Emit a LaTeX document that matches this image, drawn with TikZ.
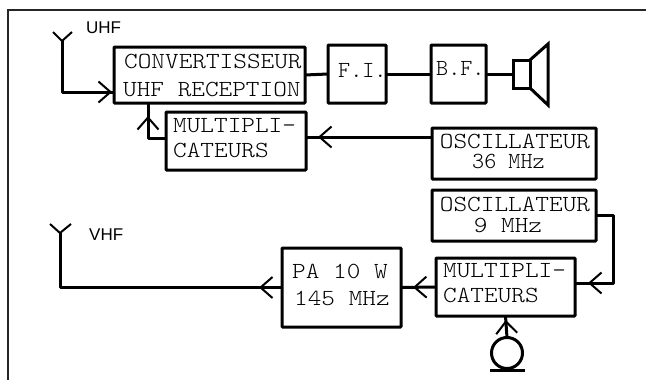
\documentclass[tikz,border=0pt]{standalone}
\usepackage{fontspec}
\setmainfont{Liberation Sans}
\newfontfamily\monof[FakeStretch=1.13]{Latin Modern Mono Light}
\newfontfamily\monon{Latin Modern Mono Light}
\usetikzlibrary{arrows.meta,decorations.markings}
\tikzset{
  x=1pt,y=-1pt,
  box/.style={draw=black,line width=3pt,outer sep=0pt,inner sep=0pt,rounded corners=0.8pt,fill=white},
  wire/.style={draw=black,line width=3pt,line join=round},
  ant/.style={draw=black,line width=2pt},
  txt/.style={anchor=base west,inner sep=0pt,font=\monof\fontsize{23}{23}\selectfont},
  txc/.style={anchor=base,inner sep=0pt,font=\monof\fontsize{23}{23}\selectfont},
  txn/.style={anchor=base west,inner sep=0pt,font=\monon\fontsize{23}{23}\selectfont},
  sans/.style={anchor=base west,inner sep=0pt,font=\fontsize{17}{17}\selectfont},
  chev/.style={postaction={decorate},decoration={markings,
    mark=at position #1 with {\arrow{Straight Barb[length=12pt,width=21pt,line width=2pt]}}}}
}
\begin{document}
\begin{tikzpicture}
\useasboundingbox (0,0) rectangle (646,380);
\draw[black!85,line width=2pt] (646,10) -- (8,10) -- (8,380);
% boxes
\node[box,minimum width=191pt,minimum height=56pt] (conv) at (209.5,75) {};
\node[box,minimum width=140pt,minimum height=58pt] (m1) at (236,141) {};
\node[box,minimum width=58pt,minimum height=58pt] (fi) at (357,74) {};
\node[box,minimum width=55pt,minimum height=58pt] (bf) at (458.5,74) {};
\node[box,minimum width=164pt,minimum height=51pt] (o36) at (514,153.5) {};
\node[box,minimum width=164pt,minimum height=51pt] (o9) at (514,215.5) {};
\node[box,minimum width=139pt,minimum height=58pt] (m2) at (505.5,287) {};
\node[box,minimum width=119pt,minimum height=79pt] (pa) at (341.5,287.5) {};
\node[box,minimum width=17pt,minimum height=28pt,rounded corners=0pt] (spk) at (521.5,74) {};
\node[draw=black,line width=3pt,circle,minimum size=31pt,inner sep=0pt,outer sep=0pt] (mic) at (507,353) {};
% text
\node[txt] (t1) at (124,68) {CONVERTISSEUR};
\node[txt] (t2) at (123,96) {UHF RECEPTION};
\node[txt] (t3) at (173,132) {MULTIPLI-};
\node[txt] (t4) at (173,157) {CATEURS};
\node[txn] (t5) at (338,77) {F.I.};
\node[txn] (t6) at (436,75) {B.F.};
\node[txc] (t7) at (515,148) {OSCILLATEUR};
\node[txn] (t8) at (472,168) {36 MHz};
\node[txc] (t9) at (515,211) {OSCILLATEUR};
\node[txc] (t10) at (508,232) {9 MHz};
\node[txt] (t11) at (443,277) {MULTIPLI-};
\node[txt] (t12) at (443,302.5) {CATEURS};
\node[txt] (t13) at (292,278) {PA 10 W};
\node[txt] (t14) at (294,305) {145 MHz};
\node[sans] (uhf) at (86,34) {UHF};
\node[sans] (vhf) at (89,240) {VHF};
% antennas and free ends
\coordinate (a1) at (62,41);
\coordinate (a1l) at (53,32);
\coordinate (a1r) at (72,32);
\coordinate (a2) at (60,233);
\coordinate (a2l) at (50,224);
\coordinate (a2r) at (71,224);
\coordinate (s1) at (548,44);
\coordinate (s2) at (548,105);
\coordinate (b1) at (490,370);
\coordinate (b2) at (525,370);
\draw[ant] (a1l) -- (a1) -- (a1r);
\draw[ant] (a2l) -- (a2) -- (a2r);
\draw[wire,line join=miter] (spk.north east) -- (s1) -- (s2) -- (spk.south east);
\draw[wire] (b1) -- (b2);
% connectors
\draw[wire,chev=-2pt] (a1) |- ([yshift=-17pt]conv.west);
\draw[wire,chev=-13pt] ([yshift=3pt]m1.west) -| ([xshift=-61.5pt]conv.south);
\draw[wire] (conv.east) -- (fi.west);
\draw[wire] (fi.east) -- (bf.west);
\draw[wire] (bf.east) -- (spk.west);
\draw[wire,chev=-12pt] ([yshift=16.5pt]o36.west) -- ([yshift=4pt]m1.east);
\draw[wire,chev=-13pt] (o9.east) -- ++(17,0) |- ([yshift=4pt]m2.east);
\draw[wire,chev=-12pt] (m2.west) -- (pa.east);
\draw[wire,chev=23pt] (pa.west) -| (a2);
\draw[wire,chev=-4pt] (mic.north) -- (m2.south);
\end{tikzpicture}
\end{document}
